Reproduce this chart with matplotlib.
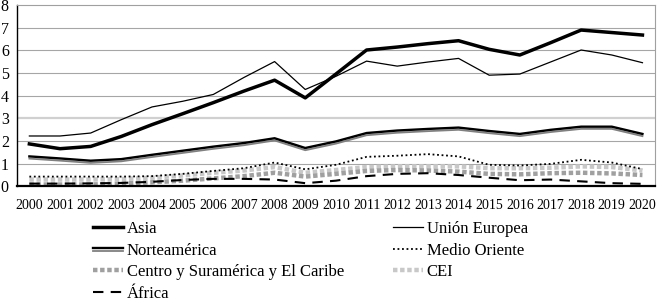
import matplotlib
matplotlib.use('Agg')
import matplotlib.pyplot as plt
import matplotlib.patheffects as pe
import numpy as np

years = [str(y) for y in range(2000, 2021)]

asia = [1.87, 1.66, 1.76, 2.2, 2.72, 3.2, 3.69, 4.2, 4.68, 3.9, 4.95,
        6.01, 6.14, 6.29, 6.42, 6.04, 5.79, 6.33, 6.89, 6.78, 6.67]
union_europea = [2.22, 2.22, 2.35, 2.94, 3.5, 3.75, 4.05, 4.8, 5.5, 4.27, 4.85,
                 5.52, 5.3, 5.48, 5.64, 4.9, 4.95, 5.48, 6.01, 5.79, 5.45]
norteamerica = [1.29, 1.2, 1.1, 1.17, 1.36, 1.54, 1.72, 1.88, 2.09, 1.66, 1.95,
                2.32, 2.43, 2.5, 2.56, 2.41, 2.28, 2.46, 2.6, 2.6, 2.28]
medio_oriente = [0.43, 0.43, 0.43, 0.43, 0.45, 0.55, 0.68, 0.8, 1.05, 0.75, 0.95,
                 1.3, 1.35, 1.42, 1.32, 0.95, 0.92, 0.99, 1.17, 1.05, 0.76]
centro_sur = [0.08, 0.08, 0.08, 0.12, 0.18, 0.25, 0.35, 0.45, 0.6, 0.43, 0.55,
              0.68, 0.72, 0.7, 0.65, 0.55, 0.53, 0.58, 0.6, 0.57, 0.5]
cei = [0.3, 0.3, 0.3, 0.32, 0.38, 0.48, 0.6, 0.7, 0.85, 0.6, 0.72,
       0.85, 0.88, 0.88, 0.88, 0.8, 0.8, 0.82, 0.88, 0.85, 0.7]
africa = [0.12, 0.12, 0.13, 0.15, 0.2, 0.28, 0.33, 0.33, 0.3, 0.14, 0.25,
          0.45, 0.55, 0.58, 0.5, 0.38, 0.27, 0.3, 0.22, 0.14, 0.11]

plt.rcParams['font.family'] = ['Liberation Serif', 'DejaVu Serif']

fig = plt.figure(figsize=(6.58, 3.04), dpi=100)
ax = fig.add_axes([0.026, 0.387, 0.969, 0.597])
x = np.arange(len(years))

# grid
for v in range(1, 8):
    c = '#d0d0d0' if v == 3 else '#a6a6a6'
    w = 1.6 if v == 3 else 0.8
    ax.axhline(v, color=c, lw=w, zorder=0)

ax.plot(x, cei, color='#c8c8c8', lw=3.2, ls=(0, (1, 0.6)), label='CEI')
ax.plot(x, centro_sur, color='#a0a0a0', lw=3.2, ls=(0, (1, 0.6)),
        label='Centro y Suramérica y El Caribe')
ax.plot(x, medio_oriente, color='black', lw=1.3, ls=(0, (1, 1.5)), label='Medio Oriente')
ax.plot(x, africa, color='black', lw=1.5, ls=(0, (5, 3.5)), label='África')
ax.plot(x, norteamerica, color='black', lw=2.5, label='Norteamérica',
        path_effects=[pe.Stroke(offset=(0, -1.1), linewidth=1.3, foreground='#808080'),
                      pe.Stroke(offset=(0, 0.5), linewidth=1.7, foreground='black')])
ax.plot(x, union_europea, color='black', lw=0.9, label='Unión Europea')
ax.plot(x, asia, color='black', lw=2.5, label='Asia')

ax.set_xlim(-0.4, 20.4)
ax.set_ylim(0, 8)
ax.set_yticks(range(0, 9))
ax.set_xticks(x)
ax.set_xticklabels(years)
ax.tick_params(axis='x', length=0, pad=9, labelsize=10)
ax.tick_params(axis='y', length=0, pad=6, labelsize=11.5)
for s in ['top', 'right']:
    ax.spines[s].set_color('#a0a0a0')
    ax.spines[s].set_linewidth(0.8)
ax.spines['left'].set_color('black')
ax.spines['left'].set_linewidth(1.0)
ax.spines['bottom'].set_color('black')
ax.spines['bottom'].set_linewidth(1.6)

h, l = ax.get_legend_handles_labels()
order = ['Asia', 'Norteamérica', 'Centro y Suramérica y El Caribe', 'África',
         'Unión Europea', 'Medio Oriente', 'CEI']
hd = dict(zip(l, h))
fig.legend([hd[k] for k in order], order, loc='upper left',
           bbox_to_anchor=(0.141, 0.272), ncol=2, frameon=False, fontsize=12,
           handlelength=1.8, handletextpad=0.25, labelspacing=0.33,
           columnspacing=2.9, borderpad=0, borderaxespad=0)

fig.savefig('out.png', dpi=100)
